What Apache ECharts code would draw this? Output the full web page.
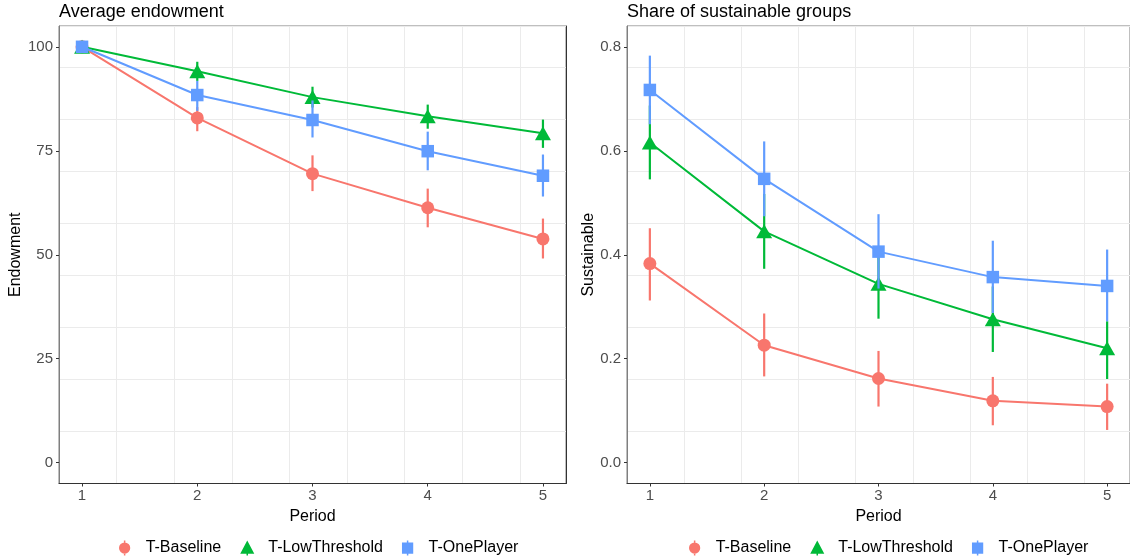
<!DOCTYPE html>
<html>
<head>
<meta charset="utf-8">
<script src="https://cdn.jsdelivr.net/npm/echarts@6/dist/echarts.min.js"></script>
<style>
html,body{margin:0;padding:0;background:#fff;}
#chart{width:1130px;height:560px;}
</style>
</head>
<body>
<div id="chart"></div>
<script>
// ---- data ----
const periods = [1, 2, 3, 4, 5];
const groups = ['T-Baseline', 'T-LowThreshold', 'T-OnePlayer'];
const colors = ['#F8766D', '#00BA38', '#619CFF'];

// Average endowment
const endowBaseline = [100, 82.9, 69.5, 61.3, 53.8];
const endowBaselineLo = [100, 79.7, 65.3, 56.6, 49.1];
const endowBaselineHi = [100, 85.5, 73.9, 65.9, 58.7];
const endowLowThr = [100, 94.1, 87.9, 83.3, 79.2];
const endowLowThrLo = [100, 91.8, 85.4, 80.3, 75.7];
const endowLowThrHi = [100, 96.4, 90.4, 86.1, 82.5];
const endowOnePl = [100, 88.4, 82.4, 74.9, 69.0];
const endowOnePlLo = [100, 84.6, 78.2, 70.3, 64.0];
const endowOnePlHi = [100, 91.8, 87.1, 79.6, 74.1];

// Share of sustainable groups
const sustBaseline = [0.383, 0.226, 0.162, 0.119, 0.108];
const sustBaselineLo = [0.312, 0.166, 0.108, 0.072, 0.063];
const sustBaselineHi = [0.451, 0.287, 0.215, 0.165, 0.152];
const sustLowThr = [0.616, 0.445, 0.344, 0.276, 0.220];
const sustLowThrLo = [0.545, 0.373, 0.277, 0.213, 0.161];
const sustLowThrHi = [0.687, 0.517, 0.411, 0.339, 0.272];
const sustOnePl = [0.717, 0.546, 0.406, 0.357, 0.340];
const sustOnePlLo = [0.651, 0.474, 0.335, 0.288, 0.272];
const sustOnePlHi = [0.783, 0.618, 0.478, 0.427, 0.410];

const xTicks = [1, 2, 3, 4, 5];
const yTicksLeft = [0, 25, 50, 75, 100];
const yTicksRight = [0, 0.2, 0.4, 0.6, 0.8];

// ---- drawing ----
const FONT = '"Liberation Sans", Arial, Helvetica, sans-serif';
const symbols = ['circle', 'triangle', 'rect'];
const symbolSizes = [13, [16, 14], 12.5];
const legendIcons = [
  'path://M4,10 a6,6 0 1,0 12,0 a6,6 0 1,0 -12,0 Z M9.2,2 h1.6 v2.2 h-1.6 Z M9.2,15.8 h1.6 v2.2 h-1.6 Z',
  'path://M10,2 L17.5,16 L2.5,16 Z M9.2,15.9 h1.6 v2.1 h-1.6 Z',
  'path://M4,4 h12 v12 h-12 Z M9.2,2 h1.6 v2.1 h-1.6 Z M9.2,15.9 h1.6 v2.1 h-1.6 Z'
];

const panels = [
  { mean: [endowBaseline, endowLowThr, endowOnePl],
    lo: [endowBaselineLo, endowLowThrLo, endowOnePlLo],
    hi: [endowBaselineHi, endowLowThrHi, endowOnePlHi] },
  { mean: [sustBaseline, sustLowThr, sustOnePl],
    lo: [sustBaselineLo, sustLowThrLo, sustOnePlLo],
    hi: [sustBaselineHi, sustLowThrHi, sustOnePlHi] }
];

function errRender(params, api) {
  const x = api.value(0), lo = api.value(1), hi = api.value(2);
  const a = api.coord([x, lo]);
  const b = api.coord([x, hi]);
  return {
    type: 'line',
    shape: { x1: a[0], y1: a[1], x2: b[0], y2: b[1] },
    style: { stroke: api.visual('color'), lineWidth: 2.2 }
  };
}

// axis indices: x: 0/1 = grid-line axes (left/right panel), 2/3 = tick/label axes
// y: 0 = left grid-lines, 1 = left ticks, 2 = left panel right edge, 3 = right grid-lines, 4 = right ticks
const series = [];
panels.forEach((p, pi) => {
  groups.forEach((g, gi) => {
    series.push({
      type: 'custom',
      name: 'err-' + pi + '-' + g,
      xAxisIndex: pi, yAxisIndex: pi === 0 ? 0 : 3,
      color: colors[gi],
      renderItem: errRender,
      encode: { x: 0, y: [1, 2] },
      data: periods.map((x, i) => [x, p.lo[gi][i], p.hi[gi][i]]),
      z: 2 + gi * 2,
      silent: true
    });
    series.push({
      type: 'line',
      name: g,
      xAxisIndex: pi, yAxisIndex: pi === 0 ? 0 : 3,
      color: colors[gi],
      data: periods.map((x, i) => [x, p.mean[gi][i]]),
      symbol: symbols[gi],
      symbolSize: symbolSizes[gi],
      showAllSymbol: true,
      lineStyle: { width: 2, color: colors[gi] },
      itemStyle: { color: colors[gi], borderWidth: 0 },
      z: 3 + gi * 2
    });
  });
});

const gridLine = { show: true, lineStyle: { color: '#EBEBEB', width: 1 } };
const labelBase = { color: '#4D4D4D', fontSize: 15, fontFamily: FONT };
const nameStyle = { color: '#000', fontSize: 16, fontFamily: FONT };

function xGridAxis(gi) {
  return {
    type: 'value', gridIndex: gi, min: 0.8, max: 5.2, interval: 0.5,
    axisLine: { show: true, onZero: false, lineStyle: { color: '#333333', width: 1 } },
    axisTick: { show: false }, axisLabel: { show: false },
    splitLine: gridLine
  };
}
function xTickAxis(gi) {
  return {
    type: 'value', gridIndex: gi, min: 0.8, max: 5.2, position: 'bottom',
    axisLine: { show: false, onZero: false },
    axisTick: { show: true, length: 3, customValues: xTicks, lineStyle: { color: '#333333' } },
    axisLabel: Object.assign({ customValues: xTicks, margin: 5, formatter: v => String(v) }, labelBase),
    splitLine: { show: false },
    name: 'Period', nameLocation: 'middle', nameGap: 19, nameTextStyle: nameStyle
  };
}

const option = {
  animation: false,
  backgroundColor: '#fff',
  textStyle: { fontFamily: FONT },
  title: [
    { text: 'Average endowment', left: 59, top: 3, padding: 0, textStyle: { fontSize: 18, fontWeight: 'normal', color: '#000', fontFamily: FONT } },
    { text: 'Share of sustainable groups', left: 627, top: 3, padding: 0, textStyle: { fontSize: 18, fontWeight: 'normal', color: '#000', fontFamily: FONT } }
  ],
  grid: [
    { left: 59, top: 26, width: 507, height: 457.5, show: true, borderColor: '#7F7F7F', borderWidth: 1, backgroundColor: '#fff' },
    { left: 627, top: 26, width: 510, height: 457.5, show: true, borderColor: '#7F7F7F', borderWidth: 1, backgroundColor: '#fff' }
  ],
  xAxis: [xGridAxis(0), xGridAxis(1), xTickAxis(0), xTickAxis(1)],
  yAxis: [
    {
      type: 'value', gridIndex: 0, min: -5, max: 105, interval: 12.5,
      axisLine: { show: true, onZero: false, lineStyle: { color: '#7F7F7F', width: 1 } },
      axisTick: { show: false }, axisLabel: { show: false },
      splitLine: gridLine
    },
    {
      type: 'value', gridIndex: 0, min: -5, max: 105, position: 'left',
      axisLine: { show: false, onZero: false },
      axisTick: { show: true, length: 3, customValues: yTicksLeft, lineStyle: { color: '#333333' } },
      axisLabel: Object.assign({ customValues: yTicksLeft, margin: 6, formatter: v => String(v) }, labelBase),
      splitLine: { show: false },
      name: 'Endowment', nameLocation: 'middle', nameGap: 33, nameTextStyle: nameStyle
    },
    {
      type: 'value', gridIndex: 0, min: -5, max: 105, position: 'right',
      axisLine: { show: true, onZero: false, lineStyle: { color: '#333333', width: 1 } },
      axisTick: { show: false }, axisLabel: { show: false }, splitLine: { show: false }
    },
    {
      type: 'value', gridIndex: 1, min: -0.04, max: 0.84, interval: 0.1,
      axisLine: { show: true, onZero: false, lineStyle: { color: '#7F7F7F', width: 1 } },
      axisTick: { show: false }, axisLabel: { show: false },
      splitLine: gridLine
    },
    {
      type: 'value', gridIndex: 1, min: -0.04, max: 0.84, position: 'left',
      axisLine: { show: false, onZero: false },
      axisTick: { show: true, length: 3, customValues: yTicksRight, lineStyle: { color: '#333333' } },
      axisLabel: Object.assign({ customValues: yTicksRight, margin: 6, formatter: v => Number(v).toFixed(1) }, labelBase),
      splitLine: { show: false },
      name: 'Sustainable', nameLocation: 'middle', nameGap: 30, nameTextStyle: nameStyle
    }
  ],
  legend: [0, 1].map(li => ({
    left: li === 0 ? 114 : 684, top: 535,
    orient: 'horizontal',
    itemWidth: 32, itemHeight: 15, itemGap: 19,
    symbolKeepAspect: true,
    selectedMode: false,
    textStyle: { fontSize: 16, color: '#000', fontFamily: FONT },
    data: groups.map((g, gi) => ({ name: g, icon: legendIcons[gi], itemStyle: { color: colors[gi] } }))
  })),
  series: series
};

const chart = echarts.init(document.getElementById('chart'), null, { renderer: 'canvas' });
chart.setOption(option);
</script>
</body>
</html>
